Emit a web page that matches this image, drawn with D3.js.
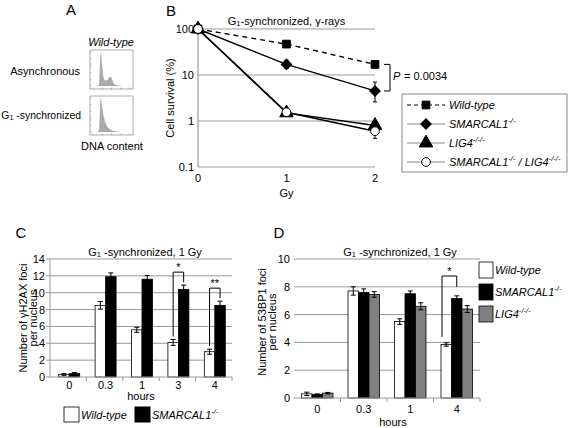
<!DOCTYPE html>
<html><head><meta charset="utf-8">
<script src="https://cdn.jsdelivr.net/npm/d3@7"></script>
<style>body{margin:0;background:#fff}svg{font-family:"Liberation Sans",Arial,sans-serif}</style>
</head><body><svg id="c" width="571" height="428"></svg>
<script>
// ---------- DATA ----------
// Panel A: DNA content histograms (relative counts per bin)
const asyncCounts = [0,0,0,1,6,100,55,22,16,17,22,27,24,12,5,3,2,1,1,0,0,0,0,0,0];
const g1Counts    = [0,0,0,1,8,100,72,45,28,18,12,8,6,4,3,2,1,1,0,0,0,0,0,0,0];
// Panel B: survival
const doses = [0,1,2];
const doseTicks = [0,1,2];
const survTicks = [0.1,1,10,100];
const survWT  = [100,47,17];
const survSM  = [100,17,4.5];
const survLIG = [100,1.5,0.8];
const survDKO = [100,1.55,0.6];
const errSMlo = [100,14,2.6], errSMhi = [100,21,7];
const errLIGlo = [100,1.35,0.7], errLIGhi = [100,1.7,0.92];
const errDKOlo = [100,1.4,0.42], errDKOhi = [100,1.7,0.72];
// Panel C: gammaH2AX foci
const hoursC = ["0","0.3","1","3","4"];
const ghWT = [0.3,8.5,5.6,4.1,3.0];
const ghWTerr = [0.1,0.45,0.3,0.35,0.3];
const ghSM = [0.4,11.9,11.6,10.4,8.5];
const ghSMerr = [0.12,0.45,0.45,0.5,0.5];
const ticksC = [0,2,4,6,8,10,12,14];
// Panel D: 53BP1 foci
const hoursD = ["0","0.3","1","4"];
const bpWT = [0.3,7.7,5.5,3.85];
const bpWTerr = [0.12,0.3,0.2,0.12];
const bpSM = [0.25,7.6,7.5,7.15];
const bpSMerr = [0.05,0.25,0.2,0.2];
const bpLIG = [0.35,7.45,6.6,6.4];
const bpLIGerr = [0.05,0.2,0.25,0.25];
const ticksD = [0,2,4,6,8,10];

// ---------- HELPERS ----------
const svg = d3.select("#c");
const GRID = "#999";
function txt(x,y,s,opt={}){
  const t = svg.append("text").attr("x",x).attr("y",y).attr("font-size",opt.size||11)
    .attr("text-anchor",opt.anchor||"start").attr("fill","#000");
  if(opt.italic) t.attr("font-style","italic");
  if(opt.rotate) t.attr("transform",`rotate(-90,${x},${y})`);
  t.text(s); return t;
}
function richText(x,y,parts,opt={}){
  const t = svg.append("text").attr("x",x).attr("y",y).attr("font-size",opt.size||11)
    .attr("text-anchor",opt.anchor||"start").attr("fill","#000");
  if(opt.italic) t.attr("font-style","italic");
  let shift=0;
  parts.forEach(([s,k])=>{
    const sp = t.append("tspan").text(s);
    let target = k==="sup"?-5:(k==="sub"?1:0);
    sp.attr("dy", target-shift); shift=target;
    if(k!=="n") sp.attr("font-size",(opt.size||11)*0.7);
  });
  return t;
}
function g1Title(cx,y,rest){
  richText(cx,y,[["G","n"],["1","sub"],[rest,"n"]],{anchor:"middle",size:11});
}

// ---------- PANEL A ----------
txt(71,15,"A",{size:15,anchor:"middle"});
txt(111,46,"Wild-type",{italic:true,anchor:"middle",size:11});
txt(80,75,"Asynchronous",{anchor:"end",size:11});
richText(81,119,[["G","n"],["1","sub"],[" -synchronized","n"]],{anchor:"end",size:10.4});
txt(112,150,"DNA content",{anchor:"middle",size:11});
function hist(counts, top){
  const left=90, right=133, bottom=top+39;
  svg.append("rect").attr("x",left).attr("y",top).attr("width",right-left).attr("height",bottom-top)
    .attr("fill","#fff").attr("stroke","#777").attr("stroke-width",0.6);
  const hx = d3.scaleLinear([0,counts.length-1],[left+3,right-3]);
  const hy = d3.scaleLinear([0,100],[bottom-3,top+2]);
  const area = d3.area().x((d,i)=>hx(i)).y0(hy(0)).y1(d=>hy(d)).curve(d3.curveMonotoneX);
  svg.append("path").datum(counts).attr("d",area).attr("fill","#aaa");
  [0,0.25,0.5,0.75,1].forEach(f=>{
    const xx = left+3+f*(right-left-6);
    svg.append("line").attr("x1",xx).attr("x2",xx).attr("y1",bottom).attr("y2",bottom-1.5).attr("stroke","#777").attr("stroke-width",0.5);
  });
  d3.range(0,6).forEach(i=>{
    const yy = bottom-3-i*(bottom-top-5)/5;
    svg.append("line").attr("x1",left).attr("x2",left+1.5).attr("y1",yy).attr("y2",yy).attr("stroke","#777").attr("stroke-width",0.5);
  });
}
hist(asyncCounts,50);
hist(g1Counts,96);

// ---------- PANEL B ----------
txt(171,16,"B",{size:15,anchor:"middle"});
const xB = d3.scaleLinear([0,2],[198,375]);
const yB = d3.scaleLog([0.1,100],[167,29]);
survTicks.forEach(v=>{
  svg.append("line").attr("x1",xB(0)).attr("x2",xB(2)).attr("y1",yB(v)).attr("y2",yB(v))
    .attr("stroke",GRID).attr("stroke-width",1.2);
  txt(194,yB(v)+4,String(v),{anchor:"end",size:11});
});
svg.append("line").attr("x1",xB(0)).attr("x2",xB(0)).attr("y1",yB(100)).attr("y2",yB(0.1)).attr("stroke",GRID).attr("stroke-width",1.2);
doseTicks.forEach(d=>txt(xB(d),182,String(d),{anchor:"middle",size:11}));
txt(xB(1),197,"Gy",{anchor:"middle",size:11});
txt(174,98,"Cell survival (%)",{anchor:"middle",size:11,rotate:true});
g1Title(xB(1),25,"-synchronized, \u03b3-rays");

const lineB = d3.line().x((d,i)=>xB(doses[i])).y(d=>yB(d));
const seriesB = [
  {vals:survWT, dash:"5,4", sym:d3.symbolSquare, size:60, rot:0, fill:"#000"},
  {vals:survSM, dash:null, sym:d3.symbolSquare, size:55, rot:45, fill:"#000", lo:errSMlo, hi:errSMhi},
  {vals:survLIG, dash:null, sym:d3.symbolTriangle, size:80, rot:0, fill:"#000", lo:errLIGlo, hi:errLIGhi},
  {vals:survDKO, dash:null, sym:d3.symbolCircle, size:60, rot:0, fill:"#fff", lo:errDKOlo, hi:errDKOhi}
];
seriesB.forEach(s=>{
  const p = svg.append("path").datum(s.vals).attr("d",lineB).attr("fill","none").attr("stroke","#000").attr("stroke-width",1.4);
  if(s.dash) p.attr("stroke-dasharray",s.dash);
});
seriesB.forEach(s=>{
  if(s.lo){
    doses.forEach((d,i)=>{
      if(i===0) return;
      const x=xB(d);
      svg.append("line").attr("x1",x).attr("x2",x).attr("y1",yB(s.lo[i])).attr("y2",yB(s.hi[i])).attr("stroke","#000").attr("stroke-width",1);
      [s.lo[i],s.hi[i]].forEach(v=>svg.append("line").attr("x1",x-2).attr("x2",x+2).attr("y1",yB(v)).attr("y2",yB(v)).attr("stroke","#000").attr("stroke-width",1));
    });
  }
});
seriesB.forEach(s=>{
  s.vals.forEach((v,i)=>{
    svg.append("path").attr("d",d3.symbol(s.sym,s.size)())
      .attr("transform",`translate(${xB(doses[i])},${yB(v)}) rotate(${s.rot})`)
      .attr("fill",s.fill).attr("stroke","#000").attr("stroke-width",1);
  });
});
// P bracket
{
  const bx=390, y1=yB(survWT[2]), y2=yB(survSM[2]);
  svg.append("path").attr("d",`M${bx-6},${y1}H${bx}V${y2}H${bx-6}`).attr("fill","none").attr("stroke","#000").attr("stroke-width",1);
  txt(393,80,"P",{size:11,italic:true});
  txt(404,80,"= 0.0034",{size:11});
}
// legend B
{
  svg.append("rect").attr("x",402).attr("y",94).attr("width",165).attr("height",78).attr("fill","#fff").attr("stroke","#888").attr("stroke-width",1);
  const ys=[105,124,143,162];
  const labels=[
    [["Wild-type","n"]],
    [["SMARCAL1","n"],["-/-","sup"]],
    [["LIG4","n"],["-/-/-","sup"]],
    [["SMARCAL1","n"],["-/-","sup"],[" / LIG4","n"],["-/-/-","sup"]]
  ];
  seriesB.forEach((s,k)=>{
    const l = svg.append("line").attr("x1",407).attr("x2",445).attr("y1",ys[k]).attr("y2",ys[k])
      .attr("stroke",k===0?"#000":"#888").attr("stroke-width",1.2);
    if(s.dash) l.attr("stroke-dasharray","4,3");
    svg.append("path").attr("d",d3.symbol(s.sym,s.size)()).attr("transform",`translate(426,${ys[k]}) rotate(${s.rot})`)
      .attr("fill",s.fill).attr("stroke","#000").attr("stroke-width",1);
    richText(449,ys[k]+4,labels[k],{size:11,italic:true});
  });
}

// ---------- PANEL C ----------
txt(21,238,"C",{size:15,anchor:"middle"});
const xC = d3.scaleBand(hoursC,[50,232]);
const subC = d3.scaleBand(["wt","sm"],[0,21]);
const offC = (xC.bandwidth()-21)/2 + 1;
const yC = d3.scaleLinear([0,14],[377,259]);
ticksC.forEach(v=>{
  if(v>0) svg.append("line").attr("x1",50).attr("x2",232).attr("y1",yC(v)).attr("y2",yC(v)).attr("stroke",GRID).attr("stroke-width",1);
  svg.append("line").attr("x1",46).attr("x2",50).attr("y1",yC(v)).attr("y2",yC(v)).attr("stroke",GRID).attr("stroke-width",1);
  txt(45,yC(v)+4,String(v),{anchor:"end",size:11});
});
svg.append("line").attr("x1",50).attr("x2",50).attr("y1",yC(14)).attr("y2",yC(0)).attr("stroke",GRID).attr("stroke-width",1);
g1Title(145,256," -synchronized, 1 Gy");
const barsC = [{vals:ghWT,err:ghWTerr,key:"wt",fill:"#fff"},{vals:ghSM,err:ghSMerr,key:"sm",fill:"#000"}];
barsC.forEach(b=>{
  hoursC.forEach((h,i)=>{
    const x = xC(h)+offC+subC(b.key), w=subC.bandwidth();
    svg.append("rect").attr("x",x).attr("y",yC(b.vals[i])).attr("width",w).attr("height",yC(0)-yC(b.vals[i]))
      .attr("fill",b.fill).attr("stroke","#000").attr("stroke-width",0.8);
    const cx=x+w/2, lo=yC(b.vals[i]-b.err[i]), hi=yC(b.vals[i]+b.err[i]);
    svg.append("path").attr("d",`M${cx},${lo}V${hi}M${cx-2.5},${lo}H${cx+2.5}M${cx-2.5},${hi}H${cx+2.5}`).attr("stroke","#000").attr("fill","none").attr("stroke-width",1);
  });
});
svg.append("line").attr("x1",50).attr("x2",232).attr("y1",yC(0)).attr("y2",yC(0)).attr("stroke",GRID).attr("stroke-width",1);
hoursC.forEach((h,i)=>{
  const bx = xC(h)+xC.bandwidth();
  svg.append("line").attr("x1",bx).attr("x2",bx).attr("y1",yC(0)).attr("y2",yC(0)+4).attr("stroke",GRID).attr("stroke-width",1);
  txt(xC(h)+xC.bandwidth()/2+1,389,h,{anchor:"middle",size:11});
});
txt(141,400,"hours",{anchor:"middle",size:11});
txt(27,318,"Number of \u03b3H2AX foci",{anchor:"middle",size:11,rotate:true});
txt(37,318,"per nucleus",{anchor:"middle",size:11,rotate:true});
// brackets C
[[3,"*"],[4,"**"]].forEach(([i,star])=>{
  const h=hoursC[i];
  const xl = xC(h)+offC+subC("wt")+subC.bandwidth()/2;
  const xr = xC(h)+offC+subC("sm")+subC.bandwidth()/2;
  const yl = yC(ghWT[i]+ghWTerr[i])-3, yr = yC(ghSM[i]+ghSMerr[i])-3;
  const top = yr-10;
  svg.append("path").attr("d",`M${xl},${yl}V${top}H${xr}V${yr}`).attr("fill","none").attr("stroke","#000").attr("stroke-width",1);
  txt((xl+xr)/2,top-1,star,{anchor:"middle",size:11});
});
// legend C
svg.append("rect").attr("x",64).attr("y",407).attr("width",15).attr("height",15).attr("fill","#fff").attr("stroke","#000").attr("stroke-width",0.8);
txt(81,419,"Wild-type",{italic:true,size:11});
svg.append("rect").attr("x",135).attr("y",407).attr("width",15).attr("height",15).attr("fill","#000").attr("stroke","#000");
richText(152,419,[["SMARCAL1","n"],["-/-","sup"]],{italic:true,size:11});

// ---------- PANEL D ----------
txt(279,238,"D",{size:15,anchor:"middle"});
const xD = d3.scaleBand(hoursD,[294,480]);
const subD = d3.scaleBand(["wt","sm","lig"],[0,31.5]);
const offD = (xD.bandwidth()-31.5)/2;
const yD = d3.scaleLinear([0,10],[398,259]);
ticksD.forEach(v=>{
  if(v>0) svg.append("line").attr("x1",294).attr("x2",480).attr("y1",yD(v)).attr("y2",yD(v)).attr("stroke",GRID).attr("stroke-width",1);
  txt(290,yD(v)+4,String(v),{anchor:"end",size:11});
});
g1Title(400,256," -synchronized, 1 Gy");
const barsD = [{vals:bpWT,err:bpWTerr,key:"wt",fill:"#fff"},{vals:bpSM,err:bpSMerr,key:"sm",fill:"#000"},{vals:bpLIG,err:bpLIGerr,key:"lig",fill:"#808080"}];
barsD.forEach(b=>{
  hoursD.forEach((h,i)=>{
    const x = xD(h)+offD+subD(b.key), w=subD.bandwidth();
    svg.append("rect").attr("x",x).attr("y",yD(b.vals[i])).attr("width",w).attr("height",yD(0)-yD(b.vals[i]))
      .attr("fill",b.fill).attr("stroke","#000").attr("stroke-width",0.8);
    const cx=x+w/2, lo=yD(b.vals[i]-b.err[i]), hi=yD(b.vals[i]+b.err[i]);
    svg.append("path").attr("d",`M${cx},${lo}V${hi}M${cx-2.5},${lo}H${cx+2.5}M${cx-2.5},${hi}H${cx+2.5}`).attr("stroke","#000").attr("fill","none").attr("stroke-width",1);
  });
});
svg.append("line").attr("x1",294).attr("x2",480).attr("y1",yD(0)).attr("y2",yD(0)).attr("stroke",GRID).attr("stroke-width",1);
hoursD.forEach(h=>{
  const bx = xD(h)+xD.bandwidth();
  svg.append("line").attr("x1",bx).attr("x2",bx).attr("y1",yD(0)).attr("y2",yD(0)+4).attr("stroke",GRID).attr("stroke-width",1);
  txt(xD(h)+xD.bandwidth()/2,413,h,{anchor:"middle",size:11});
});
txt(393,426,"hours",{anchor:"middle",size:11});
txt(266,322,"Number of 53BP1 foci",{anchor:"middle",size:11,rotate:true});
txt(276,322,"per nucleus",{anchor:"middle",size:11,rotate:true});
// bracket D
{
  const i=3, h=hoursD[i];
  const xl = xD(h)+offD+subD("wt")+1;
  const xr = xD(h)+offD+subD("sm")+subD.bandwidth()/2;
  const yl = yD(bpWT[i]+bpWTerr[i])-6, yr = yD(bpSM[i]+bpSMerr[i])-9;
  const top = 276;
  svg.append("path").attr("d",`M${xl},${yl}V${top}H${xr}V${yr}`).attr("fill","none").attr("stroke","#000").attr("stroke-width",1);
  txt((xl+xr)/2,top-1,"*",{anchor:"middle",size:11});
}
// legend D
{
  const items=[
    {fill:"#fff",y:262,parts:[["Wild-type","n"]]},
    {fill:"#000",y:284,parts:[["SMARCAL1","n"],["-/-","sup"]]},
    {fill:"#808080",y:306,parts:[["LIG4","n"],["-/-/-","sup"]]}
  ];
  items.forEach(it=>{
    svg.append("rect").attr("x",479).attr("y",it.y).attr("width",14).attr("height",16).attr("fill",it.fill).attr("stroke","#000").attr("stroke-width",0.8);
    richText(495,it.y+12,it.parts,{italic:true,size:11});
  });
}
</script></body></html>
